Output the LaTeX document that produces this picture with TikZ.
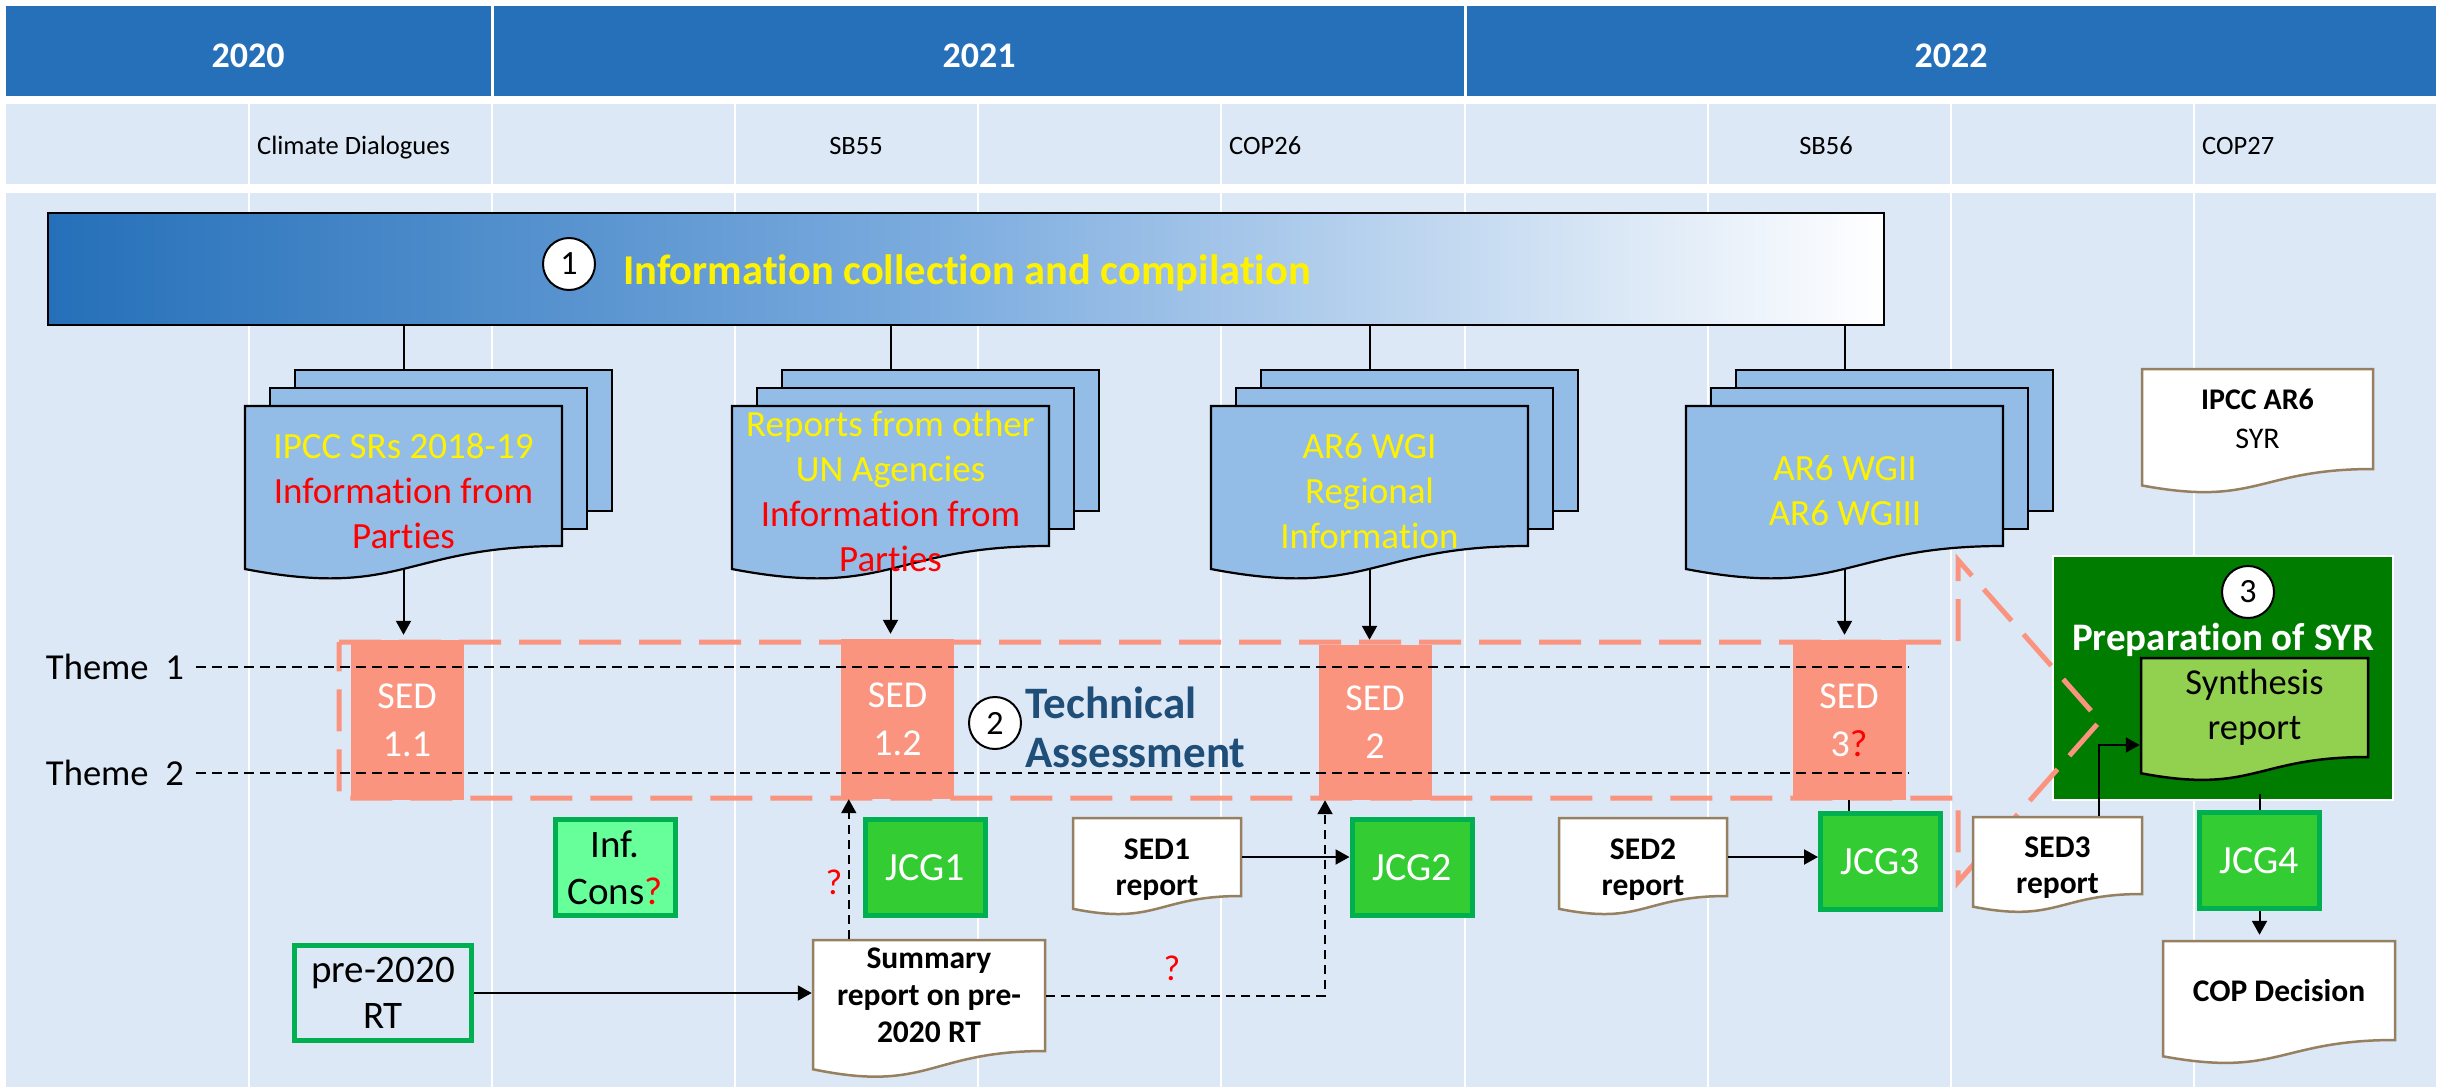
\documentclass[tikz,border=0pt]{standalone}
\usepackage{fontspec}
\setmainfont{Carlito}[Ligatures=NoCommon]
\usetikzlibrary{arrows.meta}

\definecolor{hdrblue}{HTML}{2570B9}
\definecolor{cellblue}{HTML}{DDE8F6}
\definecolor{docblue}{HTML}{93BDE7}
\definecolor{midblue}{HTML}{7FAEE0}
\definecolor{salmon}{HTML}{FA947E}
\definecolor{jcggreen}{HTML}{33CC33}
\definecolor{jcgborder}{HTML}{00B050}
\definecolor{consgreen}{HTML}{66FF99}
\definecolor{syrgreen}{HTML}{007C00}
\definecolor{synthgreen}{HTML}{92D050}
\definecolor{docbrown}{HTML}{968060}
\definecolor{techblue}{HTML}{1F4E79}

\pgfdeclarelayer{back}
\pgfsetlayers{back,main}

% flowchart document: flat top, wavy bottom below the node box
\makeatletter
\newdimen\dcxl \newdimen\dcxr \newdimen\dcxm
\newdimen\dcyt \newdimen\dcyb \newdimen\dcyl \newdimen\dcyc \newdimen\dch
\pgfdeclareshape{paperdoc}{%
  \inheritsavedanchors[from=rectangle]%
  \inheritanchorborder[from=rectangle]%
  \inheritanchor[from=rectangle]{center}%
  \inheritanchor[from=rectangle]{mid}%
  \inheritanchor[from=rectangle]{base}%
  \inheritanchor[from=rectangle]{north}%
  \inheritanchor[from=rectangle]{south}%
  \inheritanchor[from=rectangle]{east}%
  \inheritanchor[from=rectangle]{west}%
  \inheritanchor[from=rectangle]{north east}%
  \inheritanchor[from=rectangle]{north west}%
  \inheritanchor[from=rectangle]{south east}%
  \inheritanchor[from=rectangle]{south west}%
  \backgroundpath{%
    \southwest \dcxl=\pgf@x \dcyb=\pgf@y
    \northeast \dcxr=\pgf@x \dcyt=\pgf@y
    \pgfmathsetlength\dch{\pgfkeysvalueof{/pgf/outer xsep}}%
    \advance\dcxl by \dch \advance\dcxr by -\dch
    \pgfmathsetlength\dch{\pgfkeysvalueof{/pgf/outer ysep}}%
    \advance\dcyb by \dch \advance\dcyt by -\dch
    \dcxm=.5\dcxl \advance\dcxm by .5\dcxr
    \dch=\dcyt \advance\dch by -\dcyb
    \dcyl=\dcyb \advance\dcyl by -0.1646\dch
    \dcyc=\dcyb \advance\dcyc by -0.381\dch
    \pgfpathmoveto{\pgfqpoint{\dcxl}{\dcyt}}%
    \pgfpathlineto{\pgfqpoint{\dcxr}{\dcyt}}%
    \pgfpathlineto{\pgfqpoint{\dcxr}{\dcyb}}%
    \pgfpathcurveto{\pgfqpoint{\dcxm}{\dcyb}}{\pgfqpoint{\dcxm}{\dcyc}}{\pgfqpoint{\dcxl}{\dcyl}}%
    \pgfpathclose
  }%
}
\makeatother

\begin{document}
\begin{tikzpicture}[x=1pt, y=-1pt,
    every node/.style={inner sep=0pt},
    year/.style={text=white, font=\fontsize{36}{44}\selectfont\bfseries},
    event/.style={font=\fontsize{26.5}{32}\selectfont},
    circnum/.style={circle, draw=black, fill=white, line width=2pt, minimum size=52pt, font=\fontsize{34}{40}\selectfont},
    bannertext/.style={text=yellow, font=\fontsize{42.5}{48}\selectfont\bfseries},
    backsheet/.style={draw=black, line width=2.2pt, fill=docblue, minimum width=317pt, minimum height=141pt},
    frontdoc/.style={paperdoc, draw=black, line width=2.2pt, fill=docblue, minimum width=317pt, minimum height=140pt},
    stacktext/.style={text=yellow, align=center, font=\fontsize{37}{45}\selectfont},
    sedbox/.style={fill=salmon, text=white, align=center, minimum width=113pt, minimum height=160pt, font=\fontsize{38}{48}\selectfont},
    theme/.style={font=\fontsize{36.6}{44}\selectfont},
    themeline/.style={line width=2pt, dash pattern=on 10pt off 6pt},
    techtext/.style={text=techblue, align=left, font=\fontsize{45}{49}\selectfont\bfseries},
    jcg/.style={fill=jcggreen, draw=jcgborder, line width=5pt, minimum width=120pt, minimum height=96pt, text=white, align=center, font=\fontsize{40}{47}\selectfont},
    report/.style={paperdoc, fill=white, draw=docbrown, line width=2.5pt, align=center, font=\fontsize{31.5}{37}\selectfont\bfseries},
    reptext/.style={align=center, font=\fontsize{31.5}{36}\selectfont\bfseries},
    qmark/.style={text=red, font=\fontsize{36}{40}\selectfont},
    conn/.style={line width=2pt},
    arr/.style={conn, -{Triangle[length=14pt, width=15pt]}},
    dasharr/.style={arr, dash pattern=on 9pt off 6pt}]
\useasboundingbox (0,0) rectangle (2440,1087);

% table
\begin{pgfonlayer}{back}
  \fill[white] (0,0) rectangle (2440,1087);
  \fill[hdrblue] (6,6) rectangle (2436,96);
  \fill[cellblue] (6,104) rectangle (2436,184);
  \fill[cellblue] (6,193) rectangle (2436,1087);
  \foreach \x in {492,1465}
    \draw[white, line width=3pt] (\x,6) -- (\x,96);
  \foreach \x in {249,492,735,978,1221,1465,1708,1951,2194}
    \draw[white, line width=2.5pt] (\x,104) -- (\x,1087);
\end{pgfonlayer}

\node[year, anchor=base] (y2020) at (248,67) {2020};
\node[year, anchor=base] (y2021) at (979,67) {2021};
\node[year, anchor=base] (y2022) at (1951,67) {2022};

\node[event, anchor=base west] (dialogues) at (257,154) {Climate Dialogues};
\node[event, anchor=base] (sb55) at (856,154) {SB55};
\node[event, anchor=base west] (cop26) at (1229,154) {COP26};
\node[event, anchor=base] (sb56) at (1826,154) {SB56};
\node[event, anchor=base west] (cop27) at (2202,154) {COP27};

% 1 information collection
\node[draw=black, line width=2.5pt, left color=hdrblue, right color=white, middle color=midblue,
      minimum width=1836pt, minimum height=112pt] (info) at (966,269) {};
\node[circnum] (c1) at (569,264) {1};
\node[bannertext, anchor=base west] (infotext) at (623,284) {Information collection and compilation};

% document stacks
\node[backsheet] (srsback) at (453.5,440.5) {};
\node[backsheet] (srsmid) at (428.5,458.5) {};
\node[frontdoc] (srs) at (403.5,476) {};
\node[stacktext] (srstext) at (403.5,491) {IPCC SRs 2018-19\\\textcolor{red}{Information from}\\\textcolor{red}{Parties}};

\node[backsheet] (unback) at (940.5,440.5) {};
\node[backsheet] (unmid) at (915.5,458.5) {};
\node[frontdoc] (un) at (890.5,476) {};
\node[stacktext] (untext) at (890.5,491.5) {Reports from other\\UN Agencies\\\textcolor{red}{Information from}\\\textcolor{red}{Parties}};

\node[backsheet] (wgiback) at (1419.5,440.5) {};
\node[backsheet] (wgimid) at (1394.5,458.5) {};
\node[frontdoc] (wgi) at (1369.5,476) {};
\node[stacktext] (wgitext) at (1369.5,491) {AR6 WGI\\Regional\\Information};

\node[backsheet] (wgiiback) at (1894.5,440.5) {};
\node[backsheet] (wgiimid) at (1869.5,458.5) {};
\node[frontdoc] (wgii) at (1844.5,476) {};
\node[stacktext] (wgiitext) at (1845,490.5) {AR6 WGII\\AR6 WGIII};

\node[report, minimum width=231pt, minimum height=100pt, font=\fontsize{30}{39}\selectfont] (ar6syr) at (2257.5,419) {\textbf{IPCC AR6}\\SYR};

% 3 preparation of SYR
\node[fill=syrgreen, draw=white, line width=1.5pt, minimum width=340pt, minimum height=244pt] (prep) at (2223,678) {};
\node[circnum] (c3) at (2248,592) {3};
\node[text=white, font=\fontsize{39}{46}\selectfont\bfseries, anchor=base] (preptitle) at (2223,650) {Preparation of SYR};
\node[paperdoc, fill=synthgreen, draw=black, line width=2.5pt, minimum width=227pt, minimum height=99pt,
      align=center, font=\fontsize{36.5}{45}\selectfont] (synth) at (2254.5,707.5) {Synthesis\\report};

% 2 technical assessment
\node[sedbox] (sed11) at (407,720) {SED\\1.1};
\node[sedbox] (sed12) at (897.5,719) {SED\\1.2};
\node[sedbox, minimum height=155pt] (sed2) at (1375,722.5) {SED\\2};
\node[sedbox] (sed3) at (1849,720) {SED\\3\textcolor{red}{?}};
\draw[salmon, line width=5pt, dash pattern=on 42pt off 18pt]
  (339,642) -- (1958,642) -- (1958,560) -- (2100,721) -- (1958,882) -- (1958,798) -- (339,798) -- cycle;

\node[theme, anchor=east] (theme1) at (184,667) {Theme\ \ 1};
\node[theme, anchor=east] (theme2) at (184,773) {Theme\ \ 2};
\coordinate (theme1end) at (1909,667);
\coordinate (theme2end) at (1909,773);
\draw[themeline, shorten <=12pt] (theme1.east) -- (theme1end);
\draw[themeline, shorten <=12pt] (theme2.east) -- (theme2end);

\node[circnum] (c2) at (995,723) {2};
\node[techtext, anchor=west] (tech) at (1025,727.5) {Technical\\Assessment};

% JCG row
\node[jcg, fill=consgreen, text=black, font=\fontsize{39}{47}\selectfont] (infcons) at (615,867.5) {Inf.\\Cons\textcolor{red}{?}};
\node[jcg] (jcg1) at (925.5,867.5) {JCG1};
\node[report, minimum width=168pt, minimum height=78pt] (sed1rep) at (1157,857) {};
\node[reptext] (sed1text) at (1157,870) {SED1\\report};
\node[jcg] (jcg2) at (1412,867.5) {JCG2};
\node[report, minimum width=168pt, minimum height=78pt] (sed2rep) at (1643,857) {};
\node[reptext] (sed2text) at (1643,870) {SED2\\report};
\node[jcg] (jcg3) at (1880.5,861.5) {JCG3};
\node[report, minimum width=169pt, minimum height=77pt] (sed3rep) at (2057.5,855.5) {};
\node[reptext] (sed3text) at (2057.5,868) {SED3\\report};
\node[jcg] (jcg4) at (2259.5,860.5) {JCG4};

\node[jcg, fill=none, text=black, minimum width=177pt, minimum height=95pt, font=\fontsize{39}{46}\selectfont] (pre2020) at (383,993) {pre-2020\\RT};
\node[report, minimum width=232pt, minimum height=111pt] (summary) at (929,995.5) {Summary\\report on pre-\\2020 RT};
\node[report, minimum width=232pt, minimum height=99pt] (copdec) at (2279,990.5) {COP Decision};

% connectors
\draw[conn] (srs.center |- info.south) -- (srs.center |- srsback.north);
\draw[conn] (un.center |- info.south) -- (un.center |- unback.north);
\draw[conn] (wgi.center |- info.south) -- (wgi.center |- wgiback.north);
\draw[conn] (wgii.center |- info.south) -- (wgii.center |- wgiiback.north);
\begin{pgfonlayer}{back}
  \draw[arr, shorten >=5pt] (srs.center) -- (srs.center |- sed11.north);
  \draw[arr, shorten >=5pt] (un.center) -- (un.center |- sed12.north);
  \draw[arr, shorten >=5pt] (wgi.center) -- (wgi.center |- sed2.north);
  \draw[arr, shorten >=5pt] (wgii.center) -- (wgii.center |- sed3.north);
\end{pgfonlayer}

\draw[arr] (pre2020.east) -- (pre2020.east -| summary.west);
\draw[dasharr] ([xshift=37pt]summary.north west) -- ([xshift=37pt]summary.north west |- sed12.south);
\node[qmark] (q1) at (834,882) {?};
\draw[dasharr] (summary.east) -| ([xshift=-50pt]sed2.south);
\node[qmark] (q2) at (1172,968) {?};
\draw[arr] (sed1rep.east) -- (sed1rep.east -| jcg2.west);
\draw[arr] (sed2rep.east) -- (sed2rep.east -| jcg3.west);
\draw[conn] (sed3.south) -- (sed3.south |- jcg3.north);
\draw[arr] ([xshift=41pt]sed3rep.north) |- ([yshift=-37.5pt]synth.west);
\draw[conn] ([yshift=7pt]jcg4.north |- prep.south) -- (jcg4.north);
\draw[arr, shorten >=5pt] (jcg4.south) -- (jcg4.south |- copdec.north);
\end{tikzpicture}
\end{document}
